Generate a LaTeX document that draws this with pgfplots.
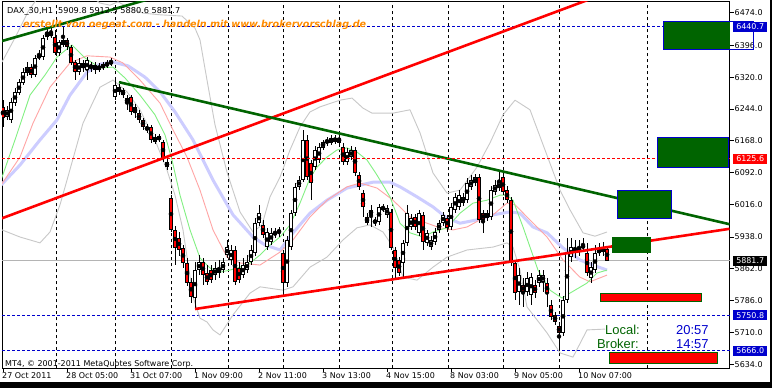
\documentclass[border=0pt]{standalone}
\usepackage{fontspec}
\setmainfont{DejaVu Sans}
\newfontfamily\arialfont{Liberation Sans}
\usepackage{graphicx}
\usepackage{pgfplots}
\usepackage{pgfplotstable}
\pgfplotsset{compat=1.18}
\definecolor{mtgreen}{RGB}{0,100,0}
\definecolor{mtblue}{RGB}{0,0,205}
\definecolor{mtred}{RGB}{255,0,0}
\definecolor{mafast}{RGB}{130,240,130}
\definecolor{maslow}{RGB}{255,165,165}
\definecolor{malav}{RGB}{205,205,255}
\definecolor{bbgrey}{RGB}{200,200,200}
\definecolor{wmorange}{RGB}{255,140,0}

\pgfplotstableread{
i o h l c
0 6249 6265 6201 6222
1 6225 6251 6218 6242
2 6218 6270 6210 6261
3 6258 6294 6251 6285
4 6282 6316 6277 6308
5 6306 6342 6301 6332
6 6330 6356 6323 6344
7 6344 6351 6318 6325
8 6325 6373 6320 6366
9 6366 6385 6361 6373
10 6368 6421 6361 6414
11 6416 6440 6409 6428
12 6418 6440 6414 6428
13 6416 6433 6373 6378
14 6378 6409 6371 6404
15 6397 6440.7 6392 6409
16 6409 6414 6385 6392
17 6392 6397 6349 6354
18 6356 6361 6313 6332
19 6332 6366 6325 6354
20 6354 6361 6332 6342
21 6337 6368 6313 6361
22 6342 6356 6332 6349
23 6349 6356 6328 6337
24 6337 6354 6332 6347
25 6342 6356 6337 6351
26 6347 6361 6342 6354
27 6351 6366 6347 6359
28 6273 6313 6265 6301
29 6296 6304 6277 6285
30 6277 6294 6270 6289
31 6270 6277 6242 6258
32 6273 6277 6230 6237
33 6249 6256 6222 6234
34 6234 6242 6210 6218
35 6218 6222 6194 6201
36 6201 6208 6187 6194
37 6201 6206 6163 6170
38 6165 6184 6160 6177
39 6170 6184 6165 6179
40 6165 6170 6117 6127
41 6117 6127 6098 6105
42 6031 6038 5950 5955
43 5955 5964 5871 5912
44 5936 5950 5893 5907
45 5912 5919 5864 5876
46 5876 5888 5821 5828
47 5831 5840 5780 5795
48 5792 5878 5766 5859
49 5859 5895 5847 5878
50 5878 5888 5823 5847
51 5852 5871 5823 5831
52 5859 5871 5828 5835
53 5847 5878 5835 5864
54 5852 5883 5840 5864
55 5859 5888 5852 5878
56 5895 5931 5888 5914
57 5883 5919 5871 5907
58 5907 5917 5823 5831
59 5864 5878 5828 5835
60 5847 5888 5840 5871
61 5859 5895 5852 5878
62 5878 5919 5871 5907
63 5900 5983 5893 5971
64 5971 6015 5964 5995
65 5967 5979 5936 5943
66 5914 5960 5907 5950
67 5926 5960 5919 5948
68 5943 5960 5936 5950
69 5955 5962 5938 5948
70 5900 5907 5804 5828
71 5828 5940 5819 5931
72 5914 6003 5907 5995
73 5995 6067 5988 6058
74 6058 6084 6050 6074
75 6074 6194 6069 6170
76 6170 6182 6074 6081
77 6115 6122 6026 6067
78 6105 6155 6098 6146
79 6122 6163 6115 6153
80 6151 6170 6146 6165
81 6170 6177 6155 6163
82 6163 6182 6158 6175
83 6165 6182 6160 6175
84 6175 6189 6153 6163
85 6153 6163 6110 6117
86 6117 6151 6110 6141
87 6129 6155 6122 6146
88 6146 6153 6084 6091
89 6086 6093 6050 6058
90 6043 6050 5986 6010
91 5986 5995 5967 5971
92 5991 6015 5962 6003
93 5979 5986 5964 5971
94 5974 6017 5967 6010
95 6003 6017 5998 6010
96 5991 6015 5983 6007
97 5998 6005 5907 5912
98 5907 5914 5835 5864
99 5883 5890 5845 5852
100 5876 5931 5840 5924
101 5924 6015 5917 5995
102 5962 5993 5955 5983
103 5986 5993 5955 5962
104 5948 6003 5940 5995
105 5991 5998 5907 5926
106 5924 5955 5917 5948
107 5914 5940 5907 5931
108 5926 5960 5919 5950
109 5955 5979 5948 5971
110 5971 5998 5964 5991
111 5983 5991 5950 5960
112 5962 6019 5955 6010
113 6003 6043 5995 6034
114 6010 6050 6003 6038
115 6019 6043 6012 6034
116 6026 6079 6019 6067
117 6058 6086 6050 6074
118 6067 6089 6060 6081
119 6081 6089 5971 5979
120 5995 6003 5948 5979
121 5983 6003 5976 5995
122 5986 6060 5979 6050
123 6046 6074 6038 6062
124 6055 6093 6048 6069
125 6081 6089 6038 6046
126 6050 6060 6019 6026
127 6026 6034 5869 5876
128 5876 5883 5788 5804
129 5807 5864 5776 5847
130 5823 5840 5771 5807
131 5807 5854 5797 5840
132 5799 5852 5776 5842
133 5823 5835 5792 5804
134 5828 5859 5819 5847
135 5831 5859 5807 5847
136 5828 5840 5771 5804
137 5776 5788 5740 5747
138 5752 5759 5728 5735
139 5725 5735 5666 5709
140 5709 5797 5702 5788
141 5788 5936 5780 5900
142 5890 5936 5878 5914
143 5902 5931 5888 5912
144 5902 5931 5893 5914
145 5912 5936 5902 5919
146 5900 5924 5845 5852
147 5840 5878 5828 5866
148 5859 5919 5852 5900
149 5900 5924 5893 5909
150 5902 5926 5893 5912
151 5909.8 5912.5 5880.6 5881.7
}\candles

\begin{document}
\begin{tikzpicture}[x=1bp,y=1bp]
\useasboundingbox (0,0) rectangle (772,388);
\fill[white] (0,0) rectangle (772,388);
\begin{axis}[
  at={(2bp,19.7bp)}, anchor=south west,
  width=727.5bp, height=366.8bp, scale only axis,
  xmin=-0.25, xmax=181.625, ymin=5624.3, ymax=6500.8,
  clip mode=individual,
  axis line style={black, line width=1bp},
  /pgf/number format/assume math mode=true,
  tick label style={font=\fontsize{8}{9}\selectfont, black},
  ytick={5634,5710,5786,5862,5938,6016,6092,6168,6244,6320,6396,6474},
  ytick pos=upper, yticklabel pos=upper,
  yticklabel style={anchor=west, inner sep=0pt, xshift=1bp,
    /pgf/number format/.cd, fixed, fixed zerofill, precision=1, 1000 sep={}},
  xtick={0,16,32,48,64,80,96,112,128,144},
  xticklabels={27 Oct 2011, 28 Oct 05:00, 31 Oct 07:00, 1 Nov 09:00, 2 Nov 11:00, 3 Nov 13:00, 4 Nov 15:00, 8 Nov 03:00, 9 Nov 05:00, 10 Nov 07:00},
  xtick pos=lower,
  xticklabel style={anchor=north west, inner sep=0pt, xshift=-1bp},
  tick align=outside, major tick length=4bp,
  tick style={black, line width=0.8bp},
  every axis plot/.append style={line join=round},
]
% vertical dotted grid
\foreach \g in {13.25,28,42,56.25,70,84,97.25,111.25,125,139,161}{
  \edef\tmp{\noexpand\draw[black, line width=0.8bp, dash pattern=on 3bp off 3bp] (axis cs:\g,5624.3) -- (axis cs:\g,6500.8);}\tmp
}
% horizontal levels
\draw[mtblue, line width=0.8bp, dash pattern=on 3bp off 2bp] (axis cs:-0.25,6440.7) -- (axis cs:181.625,6440.7);
\draw[mtblue, line width=0.8bp, dash pattern=on 3bp off 2bp] (axis cs:-0.25,5750.8) -- (axis cs:181.625,5750.8);
\draw[mtblue, line width=0.8bp, dash pattern=on 3bp off 2bp] (axis cs:-0.25,5666.0) -- (axis cs:181.625,5666.0);
\draw[bbgrey!90!black, line width=0.8bp] (axis cs:-0.25,5881.7) -- (axis cs:181.625,5881.7);

% Bollinger bands
\addplot[bbgrey, line width=0.9bp] coordinates {
(-0.25,6356) (3,6414) (6.25,6476) (8.25,6504) (10.5,6528) (16.75,6540) (21.75,6516) (24.25,6497) (26.75,6492) (28.75,6500) (31.75,6485) (35,6473) (39.25,6469) (44.75,6466) (48,6437) (49.25,6409) (51,6313) (53,6206) (56,6093) (59.25,5998) (62.5,5950) (64.75,5967) (66.75,6034) (69.25,6081) (71.75,6146) (74.25,6201) (76.75,6237) (79.25,6249) (84.25,6265) (87.25,6270) (90,6246) (92.25,6234) (97.5,6234) (101.75,6242) (104.25,6187) (107.5,6091) (111,6043) (114.25,6050) (118.5,6105) (121.75,6163) (125,6230) (128,6265) (131.75,6242) (135.5,6146) (139.25,6050) (141.75,6003) (145,5948) (148,5940) (151,5950)};
\addplot[bbgrey, line width=0.9bp] coordinates {
(-0.25,5955) (4.25,5938) (9.25,5924) (11.75,5950) (14.25,6015) (16,6074) (20,6210) (24.25,6296) (27.5,6313) (31,6285) (34.25,6242) (38,6170) (41,6098) (43,6038) (45,5955) (47.5,5795) (49.25,5744) (51,5735) (52.5,5716) (54.25,5704) (57.5,5752) (61.75,5804) (64.25,5819) (70,5811) (72.5,5819) (76.75,5866) (81,5890) (85,5931) (88.5,5960) (91.75,5967) (95,5950) (97.5,5914) (100,5842) (103.5,5835) (107.5,5866) (111,5890) (116,5907) (122.5,5914) (126,5924) (127.5,5914) (129.25,5859) (131,5771) (136,5709) (139.25,5661) (142.5,5651) (146,5716) (150.5,5718)};
% slow MA (lavender)
\addplot[malav, line width=3bp] coordinates {
(-0.5,6062) (4.25,6110) (9.25,6170) (13.5,6218) (16.75,6277) (21,6332) (24.25,6351) (27.5,6356) (31.25,6347) (35.5,6320) (39.25,6285) (43,6237) (47.5,6170) (52.5,6074) (57.5,5991) (62.5,5938) (65.5,5919) (69.25,5907) (72.5,5948) (76.75,5995) (81,6026) (86,6055) (89.25,6062) (92.5,6069) (96.75,6069) (99.25,6058) (103.5,6034) (107.5,6010) (111,5983) (114.25,5971) (118.5,5979) (122.5,5991) (126.75,5998) (129.25,5995) (132.5,5962) (136,5948) (140,5912) (144.25,5883) (147.5,5871) (151,5859)};
% mid MA (pink)
\addplot[maslow, line width=0.9bp] coordinates {
(-0.5,6062) (4.25,6129) (7.5,6210) (11.75,6296) (16.75,6354) (21,6371) (26.75,6368) (30,6354) (34.25,6313) (39.25,6258) (42.5,6194) (46,6129) (49.25,6050) (52.5,5955) (56,5890) (59.25,5876) (64.25,5871) (69.25,5902) (72.5,5931) (76.75,5986) (81,6026) (86,6058) (89.25,6067) (93.5,6055) (97.5,6026) (101.75,5986) (106,5971) (109.25,5960) (112.5,5955) (116,5962) (119.25,5979) (122.5,5991) (126,6019) (128,6015) (131,5986) (136,5938) (140,5883) (144.25,5842) (146.75,5831) (151,5847)};
% fast MA (green)
\addplot[mafast, line width=0.9bp] coordinates {
(-0.5,6074) (3,6170) (6.75,6277) (10.5,6325) (13.5,6368) (17.25,6397) (20.5,6366) (24.25,6342) (27.5,6344) (30.5,6318) (34.25,6277) (38,6230) (40.5,6182) (42.25,6122) (44.25,6038) (46.75,5955) (49.25,5888) (51.75,5864) (54.25,5854) (56.75,5859) (59.25,5866) (61.75,5876) (64.25,5895) (66.75,5919) (69.25,5938) (71.75,5967) (74.25,6019) (76.75,6079) (78.5,6105) (81,6129) (83.5,6146) (86,6151) (88.5,6141) (91,6122) (93.5,6086) (96.75,6034) (99.25,5971) (101.75,5948) (105,5938) (107.5,5950) (111,5960) (114.25,5995) (117.5,6019) (121,6026) (124.25,6038) (126,6038) (127.5,6026) (130,5962) (133.75,5859) (136.75,5811) (139.75,5792) (141.75,5804) (146,5828) (148.5,5852) (151,5859)};

% candles: wicks
\addplot[only marks, mark=none, error bars/.cd, y dir=both, y explicit, error mark=none,
  error bar style={black, line width=0.75bp}]
  table[x=i, y expr={(\thisrow{h}+\thisrow{l})/2}, y error expr={(\thisrow{h}-\thisrow{l})/2}] {\candles};
% bodies outline
\addplot[only marks, mark=none, error bars/.cd, y dir=both, y explicit, error mark=none,
  error bar style={black, line width=3.2bp}]
  table[x=i, y expr={(\thisrow{o}+\thisrow{c})/2}, y error expr={max(abs(\thisrow{o}-\thisrow{c})/2,0.7)}] {\candles};
% bearish fill
\addplot[only marks, mark=none, restrict y to domain=5000:7000, error bars/.cd, y dir=both, y explicit, error mark=none,
  error bar style={mtred, line width=1.5bp}]
  table[x=i, y expr={\thisrow{c}<\thisrow{o} ? (\thisrow{o}+\thisrow{c})/2 : 0}, y error expr={max(abs(\thisrow{o}-\thisrow{c})/2-2.2,0)}] {\candles};
% bullish fill
\addplot[only marks, mark=none, restrict y to domain=5000:7000, error bars/.cd, y dir=both, y explicit, error mark=none,
  error bar style={white, line width=1.5bp}]
  table[x=i, y expr={\thisrow{c}<\thisrow{o} ? 0 : (\thisrow{o}+\thisrow{c})/2}, y error expr={max(abs(\thisrow{o}-\thisrow{c})/2-2.2,0)}] {\candles};

% trend lines
\addplot[mtgreen, line width=2.6bp] coordinates {(-0.75,6405) (40,6516)};
\addplot[mtred, line width=2.6bp] coordinates {(-0.75,5981) (150,6518)};
\addplot[mtgreen, line width=2.6bp] coordinates {(29,6308) (181.625,5968.6)};
\addplot[mtred, line width=2.6bp] coordinates {(48,5766) (181.625,5957.6)};
\draw[mtred, line width=0.8bp, dash pattern=on 3bp off 2bp] (axis cs:-0.25,6125.6) -- (axis cs:181.625,6125.6);

% coordinates for overlays
\coordinate (B1a) at (axis cs:165,6385);
\coordinate (B1b) at (axis cs:181.625,6454);
\coordinate (B1c) at (axis cs:187.5,6454);
\coordinate (B2a) at (axis cs:163.5,6105);
\coordinate (B2b) at (axis cs:181.3,6175);
\coordinate (B3a) at (axis cs:153.5,5983);
\coordinate (B3b) at (axis cs:167,6048);
\coordinate (B4a) at (axis cs:152.25,5900);
\coordinate (B4b) at (axis cs:161.75,5938);
\coordinate (B5a) at (axis cs:149.25,5785);
\coordinate (B5b) at (axis cs:174.5,5804);
\coordinate (B6a) at (axis cs:151.5,5635);
\coordinate (B6b) at (axis cs:178.5,5663);
\coordinate (L1) at (axis cs:181.625,6440.7);
\coordinate (L2) at (axis cs:181.625,6125.6);
\coordinate (L3) at (axis cs:181.625,5881.7);
\coordinate (L4) at (axis cs:181.625,5750.8);
\coordinate (L5) at (axis cs:181.625,5666.0);
\end{axis}
% objects
\fill[mtgreen] (B1a) rectangle (B1b);
\draw[mtblue, line width=1bp] (B1a) rectangle (B1c);
\filldraw[fill=mtgreen, draw=mtblue, line width=1bp] (B2a) rectangle (B2b);
\filldraw[fill=mtgreen, draw=mtblue, line width=1bp] (B3a) rectangle (B3b);
\filldraw[fill=mtgreen, draw=mtgreen, line width=1bp] (B4a) rectangle (B4b);
\filldraw[fill=mtred, draw=mtgreen, line width=1bp] (B5a) rectangle (B5b);
\filldraw[fill=mtred, draw=mtgreen, line width=1bp] (B6a) rectangle (B6b);
% price labels
\foreach \c/\t/\col in {L1/6440.7/mtblue, L2/6125.6/mtred, L3/5881.7/black, L4/5750.8/mtblue, L5/5666.0/mtblue}{
  \node[fill=\col, text=white, anchor=west, inner sep=0pt, minimum width=34bp, minimum height=10bp,
        font=\fontsize{8}{9}\selectfont] at ([xshift=3.5bp]\c) {\t};
}
% texts
\node[anchor=base west, inner sep=0pt, font=\fontsize{8.2}{9}\selectfont] at (7,374.2) {DAX\_30,H1\ \ 5909.8 5912.5 5880.6 5881.7};
\node[anchor=base west, inner sep=0pt, text=wmorange] at (23,360.2)
  {\resizebox{343bp}{7.3bp}{\bfseries\itshape erstellt von oegeat.com - handeln mit www.brokervorschlag.de}};
\node[anchor=base west, inner sep=0pt, font=\fontsize{8}{9}\selectfont] at (5,22) {MT4, © 2001-2011 MetaQuotes Software Corp.};
\node[anchor=base west, inner sep=0pt, text=mtgreen, font=\arialfont\fontsize{13}{14}\selectfont] at (605,53.7) {Local:};
\node[anchor=base east, inner sep=0pt, text=mtgreen, font=\arialfont\fontsize{13}{14}\selectfont] at (639,39.7) {Broker:};
\node[anchor=base west, inner sep=0pt, text=mtblue, font=\arialfont\fontsize{13}{14}\selectfont] at (676,53.7) {20:57};
\node[anchor=base west, inner sep=0pt, text=mtblue, font=\arialfont\fontsize{13}{14}\selectfont] at (676,39.7) {14:57};
% window edges
\fill[black] (0,0) rectangle (772,6);
\fill[black] (769.5,0) rectangle (772,388);
\end{tikzpicture}
\end{document}
